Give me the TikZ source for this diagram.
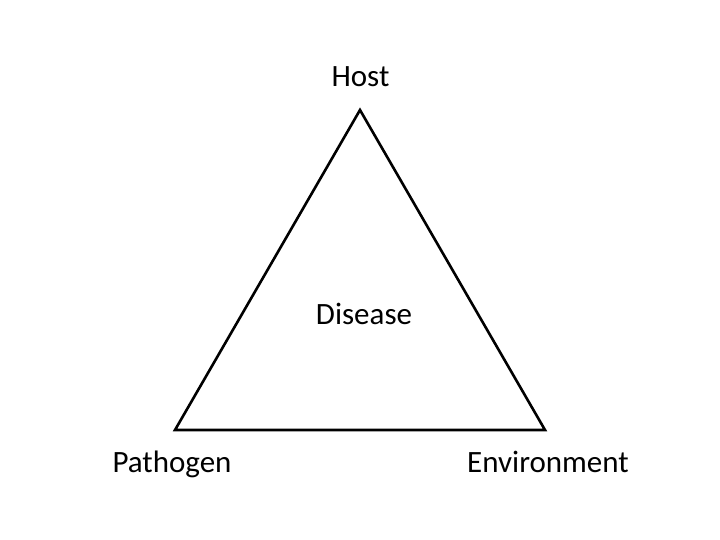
\documentclass[tikz,border=0pt]{standalone}
\usepackage{fontspec}
\setmainfont{Carlito}
\usepackage{tikz}
\usepackage{xcolor}

\tikzset{
  corner/.style={font=\fontsize{31}{36}\selectfont, anchor=base},
  side/.style={line width=2.6pt, line join=miter}
}

\begin{document}
\begin{tikzpicture}[x=1pt,y=1pt]
% page frame
\useasboundingbox (0,0) rectangle (720,540);
% corners of the triangle
\coordinate (top) at (360,430);
\coordinate (left) at (175,110);
\coordinate (right) at (545,110);
\draw[side] (top) -- (left) -- (right) -- cycle;
% labels
\node[corner] (host) at (360.5,453) {Host};
\node[corner] (disease) at (364,215) {Disease};
\node[corner] (pathogen) at (172,67) {Pathogen};
\node[corner] (environment) at (548,67) {Environment};
\end{tikzpicture}
\end{document}
